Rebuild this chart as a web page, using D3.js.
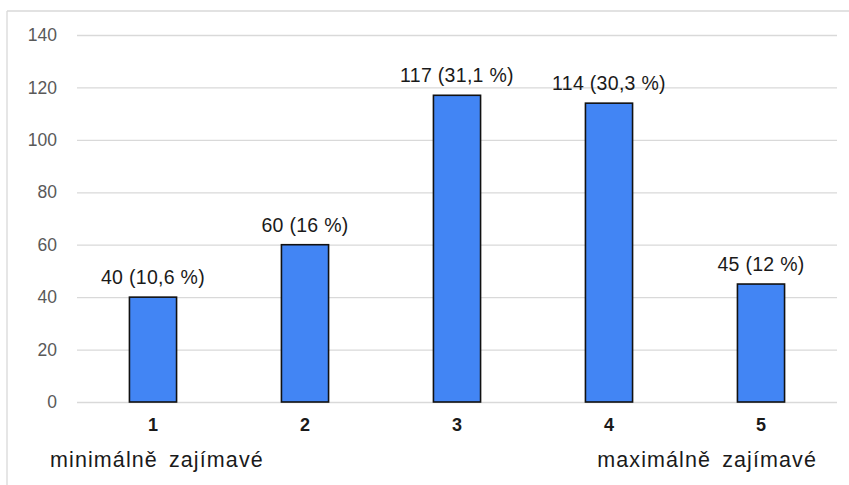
<!DOCTYPE html>
<html>
<head>
<meta charset="utf-8">
<script src="https://cdn.jsdelivr.net/npm/d3@7"></script>
<style>
  html, body { margin: 0; padding: 0; background: #fff; }
  svg { display: block; }
  text { font-family: "Liberation Sans", Arial, sans-serif; }
</style>
</head>
<body>
<svg id="chart" width="849" height="485"></svg>
<script>
// Rating scale 1–5 and number of answers per rating
const categories = ["1", "2", "3", "4", "5"];
const counts = [40, 60, 117, 114, 45];
const percents = ["10,6", "16", "31,1", "30,3", "12"];
const yTicks = [0, 20, 40, 60, 80, 100, 120, 140];
const scaleLabels = ["minimálně zajímavé", "maximálně zajímavé"];

const svg = d3.select("#chart");
const W = 849, H = 485;
const plot = { left: 77, right: 837, top: 35, bottom: 402 };

// outer frame (top and left edges)
svg.append("line").attr("x1", 7).attr("x2", W).attr("y1", 11).attr("y2", 11)
  .attr("stroke", "#d9d9d9").attr("stroke-width", 1.3);
svg.append("line").attr("x1", 7).attr("x2", 7).attr("y1", 11).attr("y2", H)
  .attr("stroke", "#d9d9d9").attr("stroke-width", 1.3);

const x = d3.scaleBand().domain(categories)
  .range([plot.left, plot.right]).paddingInner(0.69).paddingOuter(0.345);
const y = d3.scaleLinear().domain([0, 140]).range([plot.bottom, plot.top]);

// horizontal gridlines with value labels
const yAxis = d3.axisLeft(y).tickValues(yTicks)
  .tickSize(-(plot.right - plot.left)).tickPadding(20);
const gy = svg.append("g").attr("transform", `translate(${plot.left},0)`).call(yAxis);
gy.select(".domain").remove();
gy.selectAll(".tick line").attr("stroke", "#d9d9d9").attr("stroke-width", 1.3);
gy.selectAll(".tick text").attr("fill", "#595959")
  .style("font-size", "17.5px").style("font-family", "Liberation Sans, Arial, sans-serif");

// bars
svg.append("g").selectAll("rect").data(categories).join("rect")
  .attr("x", (d) => x(d))
  .attr("width", x.bandwidth())
  .attr("y", (d, i) => y(counts[i]))
  .attr("height", (d, i) => y(0) - y(counts[i]))
  .attr("fill", "#4285f4")
  .attr("stroke", "#111")
  .attr("stroke-width", 1.6);

// value labels above bars
svg.append("g").selectAll("text").data(categories).join("text")
  .attr("x", (d) => x(d) + x.bandwidth() / 2)
  .attr("y", (d, i) => y(counts[i]) - 13)
  .attr("text-anchor", "middle")
  .attr("fill", "#1a1a1a")
  .style("font-size", "19.5px")
  .style("letter-spacing", "0.3px")
  .text((d, i) => `${counts[i]} (${percents[i]} %)`);

// category labels under the axis
const gx = svg.append("g").attr("transform", `translate(0,${plot.bottom})`)
  .call(d3.axisBottom(x).tickSize(0).tickPadding(16));
gx.select(".domain").remove();
gx.selectAll(".tick text").attr("fill", "#1a1a1a")
  .style("font-size", "18px").style("font-weight", "bold")
  .style("font-family", "Liberation Sans, Arial, sans-serif");

// scale end descriptions
const c1 = x(categories[0]) + x.bandwidth() / 2;
const c5 = x(categories[4]) + x.bandwidth() / 2;
svg.append("text").attr("x", c1 - 103).attr("y", 467)
  .attr("text-anchor", "start")
  .attr("fill", "#1a1a1a").style("font-size", "21.5px")
  .style("letter-spacing", "1.1px").style("word-spacing", "4px")
  .text(scaleLabels[0]);
svg.append("text").attr("x", c5 + 56).attr("y", 467)
  .attr("text-anchor", "end")
  .attr("fill", "#1a1a1a").style("font-size", "21.5px")
  .style("letter-spacing", "1.1px").style("word-spacing", "4px")
  .text(scaleLabels[1]);
</script>
</body>
</html>
